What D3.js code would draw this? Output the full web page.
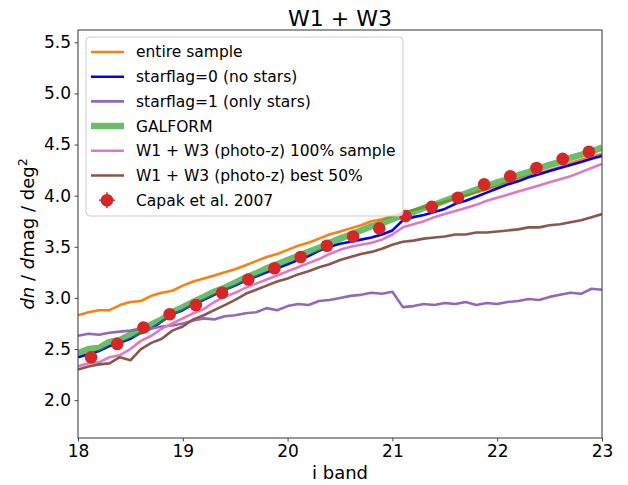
<!DOCTYPE html>
<html>
<head>
<meta charset="utf-8">
<script src="https://cdn.jsdelivr.net/npm/d3@7"></script>
<style>
  body { margin: 0; background: #fff; }
  text { font-family: "DejaVu Sans", sans-serif; fill: #000; }
</style>
</head>
<body>
<div id="chart"></div>
<script>
// magnitude bins (i band)
const mags = [18.0,18.1,18.2,18.3,18.4,18.5,18.6,18.7,18.8,18.9,
  19.0,19.1,19.2,19.3,19.4,19.5,19.6,19.7,19.8,19.9,
  20.0,20.1,20.2,20.3,20.4,20.5,20.6,20.7,20.8,20.9,
  21.0,21.1,21.2,21.3,21.4,21.5,21.6,21.7,21.8,21.9,
  22.0,22.1,22.2,22.3,22.4,22.5,22.6,22.7,22.8,22.9,23.0];

const entireSample = [2.83,2.86,2.88,2.88,2.93,2.96,2.97,3.02,3.05,3.07,
  3.12,3.16,3.19,3.22,3.25,3.28,3.32,3.36,3.40,3.43,
  3.47,3.51,3.54,3.58,3.62,3.65,3.68,3.71,3.75,3.77,
  3.80,3.83,3.86,3.89,3.91,3.94,3.97,4.00,4.03,4.06,
  4.09,4.13,4.16,4.19,4.22,4.25,4.28,4.32,4.35,4.38,4.41];

const noStars = [2.42,2.45,2.48,2.53,2.56,2.60,2.66,2.70,2.77,2.84,
  2.88,2.94,2.98,3.03,3.08,3.12,3.17,3.21,3.25,3.29,
  3.33,3.37,3.41,3.46,3.50,3.53,3.55,3.57,3.59,3.62,
  3.66,3.76,3.79,3.81,3.84,3.87,3.92,3.95,3.99,4.03,
  4.07,4.11,4.14,4.18,4.21,4.24,4.27,4.30,4.33,4.36,4.39];

const onlyStars = [2.63,2.65,2.64,2.66,2.67,2.68,2.70,2.70,2.72,2.73,
  2.75,2.78,2.80,2.79,2.82,2.83,2.85,2.86,2.90,2.88,
  2.92,2.94,2.93,2.97,2.98,3.00,3.02,3.03,3.05,3.04,
  3.06,2.91,2.92,2.94,2.93,2.95,2.94,2.96,2.93,2.95,
  2.94,2.96,2.97,2.99,2.98,3.01,3.03,3.05,3.04,3.09,3.08];

const galform = [2.46,2.50,2.51,2.57,2.59,2.64,2.67,2.74,2.79,2.86,
  2.91,2.96,3.01,3.06,3.10,3.15,3.20,3.24,3.29,3.33,
  3.37,3.41,3.45,3.49,3.54,3.58,3.62,3.66,3.70,3.73,
  3.77,3.81,3.84,3.88,3.91,3.95,3.99,4.02,4.06,4.09,
  4.13,4.16,4.20,4.23,4.27,4.30,4.33,4.37,4.40,4.43,4.47];

const photoz100 = [2.33,2.36,2.37,2.42,2.44,2.50,2.58,2.63,2.70,2.75,
  2.80,2.85,2.89,2.96,3.01,3.05,3.10,3.14,3.18,3.22,
  3.26,3.30,3.34,3.38,3.43,3.47,3.50,3.52,3.54,3.57,
  3.62,3.69,3.72,3.75,3.79,3.82,3.85,3.88,3.91,3.95,
  3.98,4.01,4.04,4.07,4.10,4.13,4.16,4.19,4.23,4.27,4.31];

const photozBest50 = [2.30,2.33,2.35,2.36,2.42,2.39,2.50,2.56,2.60,2.68,
  2.72,2.79,2.83,2.88,2.93,2.98,3.04,3.08,3.12,3.16,
  3.19,3.23,3.26,3.30,3.33,3.37,3.40,3.43,3.45,3.48,
  3.52,3.55,3.56,3.58,3.59,3.60,3.62,3.62,3.64,3.64,
  3.65,3.66,3.67,3.69,3.69,3.71,3.72,3.74,3.76,3.79,3.82];

// Capak et al. 2007 counts
const capakMag = [18.125,18.375,18.625,18.875,19.125,19.375,19.625,19.875,20.125,20.375,
  20.625,20.875,21.125,21.375,21.625,21.875,22.125,22.375,22.625,22.875];
const capakVal = [2.42,2.55,2.71,2.84,2.93,3.05,3.18,3.29,3.40,3.51,
  3.60,3.68,3.80,3.89,3.98,4.11,4.19,4.27,4.36,4.43];
const capakErr = [0.03,0.03,0.02,0.02,0.02,0.02,0.01,0.01,0.01,0.01,
  0.01,0.01,0.01,0.01,0.01,0.01,0.01,0.01,0.01,0.01];

const xTicks = [18, 19, 20, 21, 22, 23];
const yTicks = [2.0, 2.5, 3.0, 3.5, 4.0, 4.5, 5.0, 5.5];

const width = 628, height = 485;
const margin = {top: 30, right: 26, bottom: 47, left: 78};
const w = width - margin.left - margin.right;
const h = height - margin.top - margin.bottom;

const svg = d3.select('#chart').append('svg')
  .attr('width', width)
  .attr('height', height);

const g = svg.append('g')
  .attr('transform', 'translate(' + margin.left + ',' + margin.top + ')');

const x = d3.scaleLinear().domain([18, 23]).range([0, w]);
const y = d3.scaleLinear().domain([1.63, 5.62]).range([h, 0]);

svg.append('defs').append('clipPath').attr('id', 'clip')
  .append('rect').attr('width', w).attr('height', h);

const series = [
  {label: 'entire sample', values: entireSample, color: '#ff7f0e', lw: 2.6, op: 1},
  {label: 'starflag=0 (no stars)', values: noStars, color: '#0000ff', lw: 2.6, op: 1},
  {label: 'starflag=1 (only stars)', values: onlyStars, color: '#9467bd', lw: 2.6, op: 1},
  {label: 'GALFORM', values: galform, color: '#2ca02c', lw: 6.5, op: 0.7},
  {label: 'W1 + W3 (photo-z) 100% sample', values: photoz100, color: '#e377c2', lw: 2.6, op: 1},
  {label: 'W1 + W3 (photo-z) best 50%', values: photozBest50, color: '#8c564b', lw: 2.6, op: 1}
];

const line = d3.line()
  .x((d, i) => x(mags[i]))
  .y(d => y(d));

const plot = g.append('g').attr('clip-path', 'url(#clip)');

series.forEach(s => {
  plot.append('path')
    .datum(s.values)
    .attr('d', line)
    .attr('fill', 'none')
    .attr('stroke', s.color)
    .attr('stroke-width', s.lw)
    .attr('stroke-opacity', s.op)
    .attr('stroke-linejoin', 'round')
    .attr('stroke-linecap', 'butt');
});

// Capak points with error bars
const capak = capakMag.map((m, i) => ({m: m, v: capakVal[i], e: capakErr[i]}));
plot.selectAll('.err')
  .data(capak)
  .enter()
  .append('line')
  .attr('x1', d => x(d.m)).attr('x2', d => x(d.m))
  .attr('y1', d => y(d.v - d.e)).attr('y2', d => y(d.v + d.e))
  .attr('stroke', '#d62728')
  .attr('stroke-width', 1.5);
plot.selectAll('.pt')
  .data(capak)
  .enter()
  .append('circle')
  .attr('cx', d => x(d.m))
  .attr('cy', d => y(d.v))
  .attr('r', 6.3)
  .attr('fill', '#d62728');

// axes
const xAxis = d3.axisBottom(x).tickValues(xTicks).tickSize(3.5).tickPadding(3.5)
  .tickFormat(d3.format('d'));
const yAxis = d3.axisLeft(y).tickValues(yTicks).tickSize(3.5).tickPadding(3.5)
  .tickFormat(d3.format('.1f'));

const gx = g.append('g').attr('transform', 'translate(0,' + h + ')').call(xAxis);
const gy = g.append('g').call(yAxis);
[gx, gy].forEach(a => {
  a.select('.domain').remove();
  a.selectAll('line').attr('stroke', '#333').attr('stroke-width', 0.9);
  a.selectAll('text').style('font-size', '17px').style('font-family', '"DejaVu Sans", sans-serif').attr('fill', '#000');
});

g.append('rect')
  .attr('width', w).attr('height', h)
  .attr('fill', 'none')
  .attr('stroke', '#333')
  .attr('stroke-width', 1);

// title and labels
svg.append('text')
  .attr('x', margin.left + w / 2).attr('y', 26)
  .attr('text-anchor', 'middle')
  .style('font-size', '22px')
  .text('W1 + W3');

svg.append('text')
  .attr('x', margin.left + w / 2).attr('y', 479)
  .attr('text-anchor', 'middle')
  .style('font-size', '18px')
  .text('i band');

const yl = svg.append('text')
  .attr('transform', 'translate(34,' + (margin.top + h / 2) + ') rotate(-90)')
  .attr('text-anchor', 'middle')
  .style('font-size', '18px');
yl.append('tspan').style('font-style', 'italic').text('dn');
yl.append('tspan').text(' / ');
yl.append('tspan').style('font-style', 'italic').text('d');
yl.append('tspan').text('mag / deg');
yl.append('tspan').attr('dy', -7).style('font-size', '12.5px').text('2');

// legend
const lg = svg.append('g').attr('transform', 'translate(86,37)');
lg.append('rect')
  .attr('width', 317).attr('height', 179)
  .attr('rx', 4)
  .attr('fill', '#fff').attr('fill-opacity', 0.8)
  .attr('stroke', '#ccc').attr('stroke-width', 1);

const rowY = i => 15 + i * 24.7;
series.forEach((s, i) => {
  lg.append('line')
    .attr('x1', 5).attr('x2', 38)
    .attr('y1', rowY(i)).attr('y2', rowY(i))
    .attr('stroke', s.color)
    .attr('stroke-width', s.lw)
    .attr('stroke-opacity', s.op);
  lg.append('text')
    .attr('x', 50).attr('y', rowY(i)).attr('dy', '0.35em')
    .style('font-size', '15.5px')
    .text(s.label);
});
const cy = rowY(6);
lg.append('line').attr('x1', 13).attr('x2', 29).attr('y1', cy).attr('y2', cy)
  .attr('stroke', '#d62728').attr('stroke-width', 1.5);
lg.append('line').attr('x1', 21).attr('x2', 21).attr('y1', cy - 8).attr('y2', cy + 8)
  .attr('stroke', '#d62728').attr('stroke-width', 1.5);
lg.append('circle').attr('cx', 21).attr('cy', cy).attr('r', 6.3).attr('fill', '#d62728');
lg.append('text')
  .attr('x', 50).attr('y', cy).attr('dy', '0.35em')
  .style('font-size', '15.5px')
  .text('Capak et al. 2007');
</script>
</body>
</html>
